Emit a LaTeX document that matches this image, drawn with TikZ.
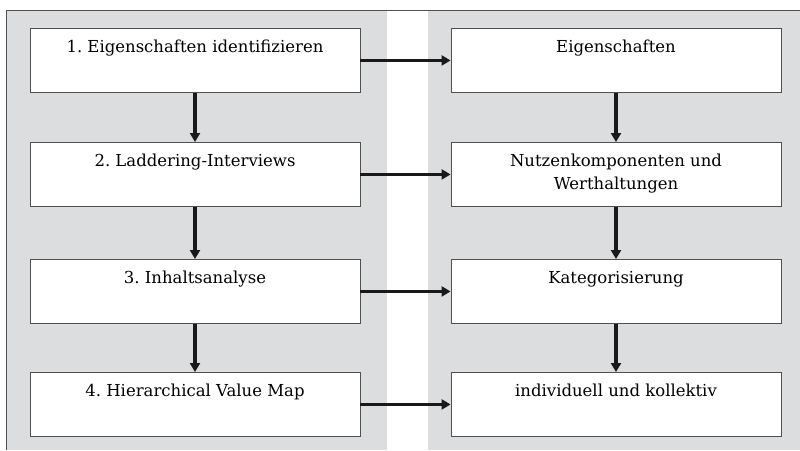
\documentclass[tikz,border=0pt]{standalone}
\usepackage{fontspec}
\setmainfont{DejaVu Serif}
\usetikzlibrary{arrows.meta}
\definecolor{panelgray}{HTML}{DCDDDF}
\definecolor{framegray}{HTML}{505050}
\newcommand{\boxtxt}[1]{\parbox[t][48pt][t]{320pt}{\centering\frenchspacing\strut #1}}

\begin{document}
\begin{tikzpicture}[x=1pt,y=-1pt,
    stepbox/.style={draw=framegray,line width=0.9pt,fill=white,minimum width=330pt,minimum height=64pt,inner sep=0pt,anchor=north,font=\fontsize{16.5}{23}\selectfont},
    flow/.style={-{Triangle[length=9pt,width=10pt]},line width=3.6pt,black!90}]
        \useasboundingbox (0,0) rectangle (800,450);

        % background panels and frame
        \fill[panelgray](6,10) rectangle (387,450);
        \fill[panelgray](428,10) rectangle (800,450);
        \draw[framegray,line width=1pt](6,450)--(6,10)--(800,10);

        % steps
        \node[stepbox](l1) at (195,28){\boxtxt{1. Eigenschaften identifizieren}};
        \node[stepbox](l2) at (195,142){\boxtxt{2. Laddering-Interviews}};
        \node[stepbox](l3) at (195,259){\boxtxt{3. Inhaltsanalyse}};
        \node[stepbox](l4) at (195,372){\boxtxt{4. Hierarchical Value Map}};

        % results
        \node[stepbox](r1) at (616,28){\boxtxt{Eigenschaften}};
        \node[stepbox](r2) at (616,142){\boxtxt{Nutzenkomponenten und\\Werthaltungen}};
        \node[stepbox](r3) at (616,259){\boxtxt{Kategorisierung}};
        \node[stepbox](r4) at (616,372){\boxtxt{individuell und kollektiv}};

        \draw[flow](l1.south)--(l2.north);
        \draw[flow](l2.south)--(l3.north);
        \draw[flow](l3.south)--(l4.north);
        \draw[flow](r1.south)--(r2.north);
        \draw[flow](r2.south)--(r3.north);
        \draw[flow](r3.south)--(r4.north);

        \draw[flow](l1.east)--(r1.west);
        \draw[flow](l2.east)--(r2.west);
        \draw[flow](l3.east)--(r3.west);
        \draw[flow](l4.east)--(r4.west);

    \end{tikzpicture}
\end{document}
